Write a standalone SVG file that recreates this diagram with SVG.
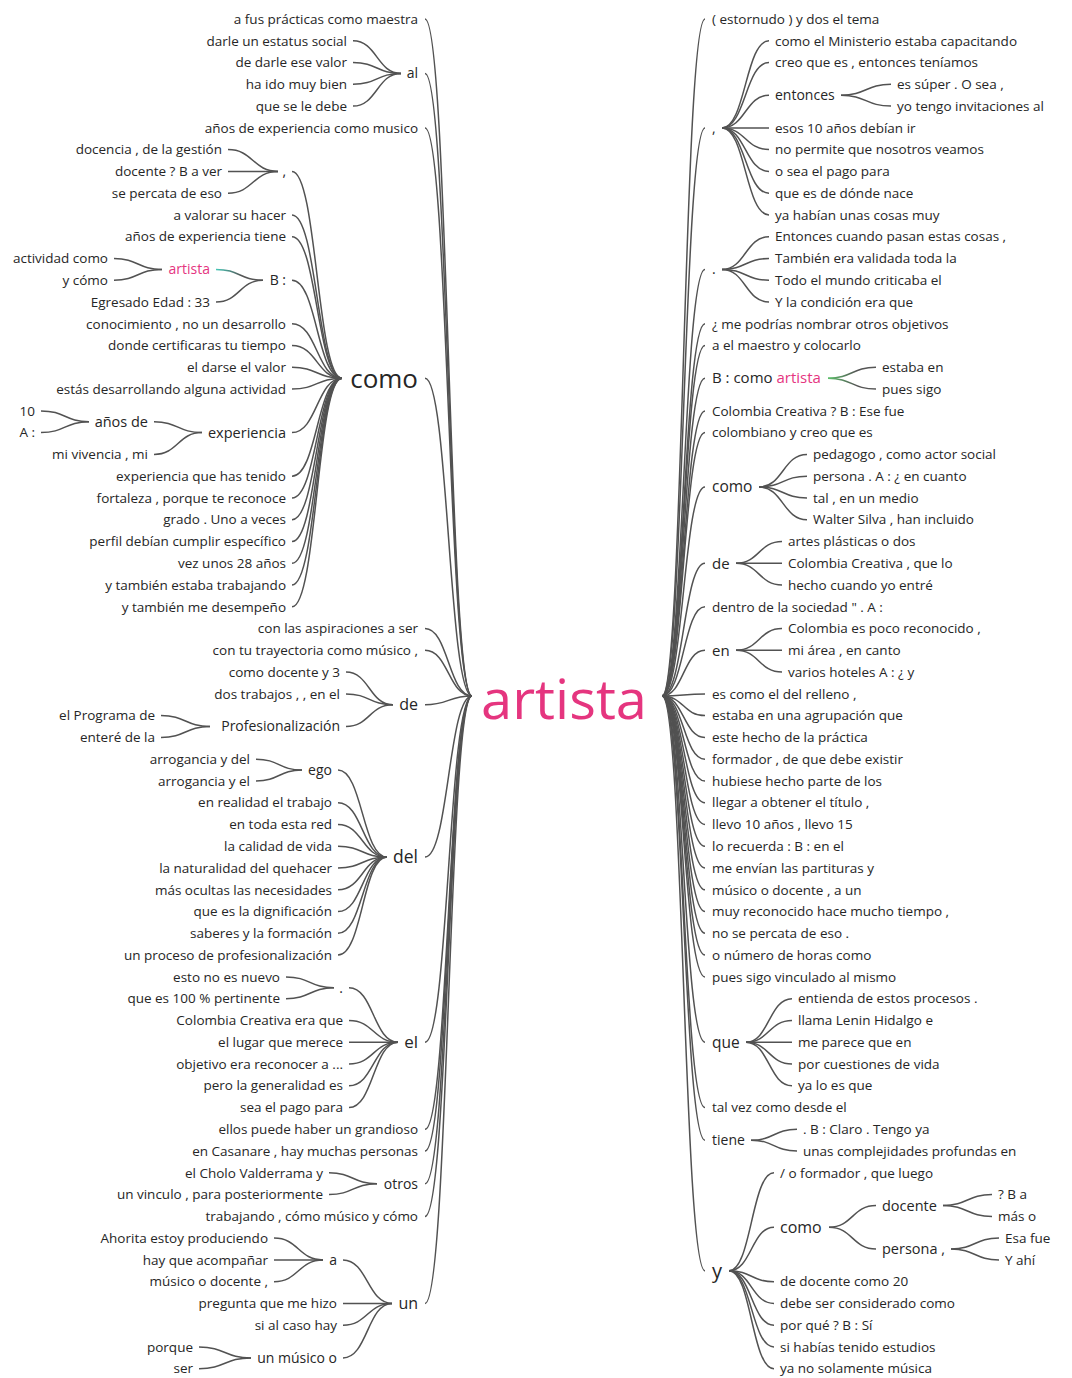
<svg xmlns="http://www.w3.org/2000/svg" width="1072" height="1378" viewBox="0 0 1072 1378">
<defs>
  <linearGradient id="hl" x1="0" y1="0" x2="1" y2="0">
    <stop offset="0" stop-color="#45c9b8"/>
    <stop offset="0.55" stop-color="#555"/>
  </linearGradient>
  <linearGradient id="hlr" x1="0" y1="0" x2="1" y2="0">
    <stop offset="0" stop-color="#5cbf6a"/>
    <stop offset="0.6" stop-color="#555"/>
  </linearGradient>
  <style>
    text { font-family: "Open Sans", "Liberation Sans", sans-serif; fill: #262626; }
    .lf { font-size: 13.5px; }
    .lt { text-anchor: end; }
    .n14 { font-size: 14px; }
    .n15 { font-size: 15px; }
    .n16 { font-size: 16px; }
    .pk { fill: #e5357f; }
    .lnk path { fill: none; stroke: #525252; stroke-width: 1.5; }
  </style>
</defs>
<rect width="1072" height="1378" fill="#fff"/>

<!-- connectors -->
<g class="lnk" id="connectors">
  <!-- root, left side -->
  <path d="M425 19C448.5 19 448.5 696 472 696"/>
  <path d="M425 73.4C448.5 73.4 448.5 696 472 696"/>
  <path d="M425 127.9C448.5 127.9 448.5 696 472 696"/>
  <path d="M425 378.2C448.5 378.2 448.5 696 472 696"/>
  <path d="M425 628.6C448.5 628.6 448.5 696 472 696"/>
  <path d="M425 650.3C448.5 650.3 448.5 696 472 696"/>
  <path d="M425 704.8C448.5 704.8 448.5 696 472 696"/>
  <path d="M425 857.1C448.5 857.1 448.5 696 472 696"/>
  <path d="M425 1042.2C448.5 1042.2 448.5 696 472 696"/>
  <path d="M425 1129.3C448.5 1129.3 448.5 696 472 696"/>
  <path d="M425 1151C448.5 1151 448.5 696 472 696"/>
  <path d="M425 1183.7C448.5 1183.7 448.5 696 472 696"/>
  <path d="M425 1216.4C448.5 1216.4 448.5 696 472 696"/>
  <path d="M425 1303.4C448.5 1303.4 448.5 696 472 696"/>
  <!-- al -->
  <path d="M353 40.8C377 40.8 377 73.4 401 73.4"/>
  <path d="M353 62.5C377 62.5 377 73.4 401 73.4"/>
  <path d="M353 84.3C377 84.3 377 73.4 401 73.4"/>
  <path d="M353 106.1C377 106.1 377 73.4 401 73.4"/>
  <!-- como (left) -->
  <path d="M292 171.4C317 171.4 317 378.2 342 378.2"/>
  <path d="M292 214.9C317 214.9 317 378.2 342 378.2"/>
  <path d="M292 236.7C317 236.7 317 378.2 342 378.2"/>
  <path d="M292 280.2C317 280.2 317 378.2 342 378.2"/>
  <path d="M292 323.8C317 323.8 317 378.2 342 378.2"/>
  <path d="M292 345.6C317 345.6 317 378.2 342 378.2"/>
  <path d="M292 367.3C317 367.3 317 378.2 342 378.2"/>
  <path d="M292 389.1C317 389.1 317 378.2 342 378.2"/>
  <path d="M292 432.6C317 432.6 317 378.2 342 378.2"/>
  <path d="M292 476.2C317 476.2 317 378.2 342 378.2"/>
  <path d="M292 497.9C317 497.9 317 378.2 342 378.2"/>
  <path d="M292 519.7C317 519.7 317 378.2 342 378.2"/>
  <path d="M292 541.5C317 541.5 317 378.2 342 378.2"/>
  <path d="M292 563.3C317 563.3 317 378.2 342 378.2"/>
  <path d="M292 585C317 585 317 378.2 342 378.2"/>
  <path d="M292 606.8C317 606.8 317 378.2 342 378.2"/>
  <!-- comma under como -->
  <path d="M228 149.6C253 149.6 253 171.4 278 171.4"/>
  <path d="M228 171.4C253 171.4 253 171.4 278 171.4"/>
  <path d="M228 193.2C253 193.2 253 171.4 278 171.4"/>
  <!-- B : -->
  <path d="M216 269.4C239.5 269.4 239.5 280.2 263 280.2" style="stroke:url(#hl)"/>
  <path d="M216 302C239.5 302 239.5 280.2 263 280.2"/>
  <!-- artista (left) -->
  <path d="M114 258.5C138 258.5 138 269.4 162 269.4"/>
  <path d="M114 280.2C138 280.2 138 269.4 162 269.4"/>
  <!-- experiencia -->
  <path d="M154 421.7C178 421.7 178 432.6 202 432.6"/>
  <path d="M154 454.4C178 454.4 178 432.6 202 432.6"/>
  <!-- años de -->
  <path d="M41 410.9C65 410.9 65 421.7 89 421.7"/>
  <path d="M41 432.6C65 432.6 65 421.7 89 421.7"/>
  <!-- de (left) -->
  <path d="M346 672.1C369.5 672.1 369.5 704.8 393 704.8"/>
  <path d="M346 693.9C369.5 693.9 369.5 704.8 393 704.8"/>
  <path d="M346 726.5C369.5 726.5 369.5 704.8 393 704.8"/>
  <!-- Profesionalización -->
  <path d="M161 715.6C185.5 715.6 185.5 726.5 210 726.5"/>
  <path d="M161 737.4C185.5 737.4 185.5 726.5 210 726.5"/>
  <!-- del -->
  <path d="M338 770.1C362.5 770.1 362.5 857.1 387 857.1"/>
  <path d="M338 802.7C362.5 802.7 362.5 857.1 387 857.1"/>
  <path d="M338 824.5C362.5 824.5 362.5 857.1 387 857.1"/>
  <path d="M338 846.3C362.5 846.3 362.5 857.1 387 857.1"/>
  <path d="M338 868C362.5 868 362.5 857.1 387 857.1"/>
  <path d="M338 889.8C362.5 889.8 362.5 857.1 387 857.1"/>
  <path d="M338 911.6C362.5 911.6 362.5 857.1 387 857.1"/>
  <path d="M338 933.3C362.5 933.3 362.5 857.1 387 857.1"/>
  <path d="M338 955.1C362.5 955.1 362.5 857.1 387 857.1"/>
  <!-- ego -->
  <path d="M256 759.2C279 759.2 279 770.1 302 770.1"/>
  <path d="M256 781C279 781 279 770.1 302 770.1"/>
  <!-- el -->
  <path d="M349 987.8C373.5 987.8 373.5 1042.2 398 1042.2"/>
  <path d="M349 1020.4C373.5 1020.4 373.5 1042.2 398 1042.2"/>
  <path d="M349 1042.2C373.5 1042.2 373.5 1042.2 398 1042.2"/>
  <path d="M349 1064C373.5 1064 373.5 1042.2 398 1042.2"/>
  <path d="M349 1085.7C373.5 1085.7 373.5 1042.2 398 1042.2"/>
  <path d="M349 1107.5C373.5 1107.5 373.5 1042.2 398 1042.2"/>
  <!-- period under el -->
  <path d="M286 976.9C310 976.9 310 987.8 334 987.8"/>
  <path d="M286 998.7C310 998.7 310 987.8 334 987.8"/>
  <!-- otros -->
  <path d="M329 1172.8C353 1172.8 353 1183.7 377 1183.7"/>
  <path d="M329 1194.6C353 1194.6 353 1183.7 377 1183.7"/>
  <!-- un -->
  <path d="M343 1259.9C367.5 1259.9 367.5 1303.4 392 1303.4"/>
  <path d="M343 1303.4C367.5 1303.4 367.5 1303.4 392 1303.4"/>
  <path d="M343 1325.2C367.5 1325.2 367.5 1303.4 392 1303.4"/>
  <path d="M343 1357.9C367.5 1357.9 367.5 1303.4 392 1303.4"/>
  <!-- a -->
  <path d="M274 1238.1C298.5 1238.1 298.5 1259.9 323 1259.9"/>
  <path d="M274 1259.9C298.5 1259.9 298.5 1259.9 323 1259.9"/>
  <path d="M274 1281.7C298.5 1281.7 298.5 1259.9 323 1259.9"/>
  <!-- un músico o -->
  <path d="M199 1347C225 1347 225 1357.9 251 1357.9"/>
  <path d="M199 1368.7C225 1368.7 225 1357.9 251 1357.9"/>

  <!-- root, right side -->
  <path d="M662 696C683.5 696 683.5 19 705 19"/>
  <path d="M662 696C683.5 696 683.5 127.9 705 127.9"/>
  <path d="M662 696C683.5 696 683.5 269.4 705 269.4"/>
  <path d="M662 696C683.5 696 683.5 323.8 705 323.8"/>
  <path d="M662 696C683.5 696 683.5 345.6 705 345.6"/>
  <path d="M662 696C683.5 696 683.5 378.2 705 378.2"/>
  <path d="M662 696C683.5 696 683.5 410.9 705 410.9"/>
  <path d="M662 696C683.5 696 683.5 432.6 705 432.6"/>
  <path d="M662 696C683.5 696 683.5 487 705 487"/>
  <path d="M662 696C683.5 696 683.5 563.3 705 563.3"/>
  <path d="M662 696C683.5 696 683.5 606.8 705 606.8"/>
  <path d="M662 696C683.5 696 683.5 650.3 705 650.3"/>
  <path d="M662 696C683.5 696 683.5 693.9 705 693.9"/>
  <path d="M662 696C683.5 696 683.5 715.6 705 715.6"/>
  <path d="M662 696C683.5 696 683.5 737.4 705 737.4"/>
  <path d="M662 696C683.5 696 683.5 759.2 705 759.2"/>
  <path d="M662 696C683.5 696 683.5 781 705 781"/>
  <path d="M662 696C683.5 696 683.5 802.7 705 802.7"/>
  <path d="M662 696C683.5 696 683.5 824.5 705 824.5"/>
  <path d="M662 696C683.5 696 683.5 846.3 705 846.3"/>
  <path d="M662 696C683.5 696 683.5 868 705 868"/>
  <path d="M662 696C683.5 696 683.5 889.8 705 889.8"/>
  <path d="M662 696C683.5 696 683.5 911.6 705 911.6"/>
  <path d="M662 696C683.5 696 683.5 933.3 705 933.3"/>
  <path d="M662 696C683.5 696 683.5 955.1 705 955.1"/>
  <path d="M662 696C683.5 696 683.5 976.9 705 976.9"/>
  <path d="M662 696C683.5 696 683.5 1042.2 705 1042.2"/>
  <path d="M662 696C683.5 696 683.5 1107.5 705 1107.5"/>
  <path d="M662 696C683.5 696 683.5 1140.2 705 1140.2"/>
  <path d="M662 696C683.5 696 683.5 1270.8 705 1270.8"/>
  <!-- comma (right) -->
  <path d="M722 127.9C745.5 127.9 745.5 40.8 769 40.8"/>
  <path d="M722 127.9C745.5 127.9 745.5 62.5 769 62.5"/>
  <path d="M722 127.9C745.5 127.9 745.5 95.2 769 95.2"/>
  <path d="M722 127.9C745.5 127.9 745.5 127.9 769 127.9"/>
  <path d="M722 127.9C745.5 127.9 745.5 149.6 769 149.6"/>
  <path d="M722 127.9C745.5 127.9 745.5 171.4 769 171.4"/>
  <path d="M722 127.9C745.5 127.9 745.5 193.2 769 193.2"/>
  <path d="M722 127.9C745.5 127.9 745.5 214.9 769 214.9"/>
  <!-- entonces -->
  <path d="M841 95.2C866 95.2 866 84.3 891 84.3"/>
  <path d="M841 95.2C866 95.2 866 106.1 891 106.1"/>
  <!-- period (right) -->
  <path d="M722 269.4C745.5 269.4 745.5 236.7 769 236.7"/>
  <path d="M722 269.4C745.5 269.4 745.5 258.5 769 258.5"/>
  <path d="M722 269.4C745.5 269.4 745.5 280.2 769 280.2"/>
  <path d="M722 269.4C745.5 269.4 745.5 302 769 302"/>
  <!-- B : como artista -->
  <path d="M828 378.2C852 378.2 852 367.3 876 367.3" style="stroke:url(#hlr)"/>
  <path d="M828 378.2C852 378.2 852 389.1 876 389.1" style="stroke:url(#hlr)"/>
  <!-- como (right) -->
  <path d="M759 487C783 487 783 454.4 807 454.4"/>
  <path d="M759 487C783 487 783 476.2 807 476.2"/>
  <path d="M759 487C783 487 783 497.9 807 497.9"/>
  <path d="M759 487C783 487 783 519.7 807 519.7"/>
  <!-- de (right) -->
  <path d="M736 563.3C759 563.3 759 541.5 782 541.5"/>
  <path d="M736 563.3C759 563.3 759 563.3 782 563.3"/>
  <path d="M736 563.3C759 563.3 759 585 782 585"/>
  <!-- en -->
  <path d="M736 650.3C759 650.3 759 628.6 782 628.6"/>
  <path d="M736 650.3C759 650.3 759 650.3 782 650.3"/>
  <path d="M736 650.3C759 650.3 759 672.1 782 672.1"/>
  <!-- que -->
  <path d="M746 1042.2C769 1042.2 769 998.7 792 998.7"/>
  <path d="M746 1042.2C769 1042.2 769 1020.4 792 1020.4"/>
  <path d="M746 1042.2C769 1042.2 769 1042.2 792 1042.2"/>
  <path d="M746 1042.2C769 1042.2 769 1064 792 1064"/>
  <path d="M746 1042.2C769 1042.2 769 1085.7 792 1085.7"/>
  <!-- tiene -->
  <path d="M751 1140.2C774 1140.2 774 1129.3 797 1129.3"/>
  <path d="M751 1140.2C774 1140.2 774 1151 797 1151"/>
  <!-- y -->
  <path d="M729 1270.8C751.5 1270.8 751.5 1172.8 774 1172.8"/>
  <path d="M729 1270.8C751.5 1270.8 751.5 1227.2 774 1227.2"/>
  <path d="M729 1270.8C751.5 1270.8 751.5 1281.7 774 1281.7"/>
  <path d="M729 1270.8C751.5 1270.8 751.5 1303.4 774 1303.4"/>
  <path d="M729 1270.8C751.5 1270.8 751.5 1325.2 774 1325.2"/>
  <path d="M729 1270.8C751.5 1270.8 751.5 1347 774 1347"/>
  <path d="M729 1270.8C751.5 1270.8 751.5 1368.7 774 1368.7"/>
  <!-- como under y -->
  <path d="M829 1227.2C852.5 1227.2 852.5 1205.5 876 1205.5"/>
  <path d="M829 1227.2C852.5 1227.2 852.5 1249 876 1249"/>
  <!-- docente -->
  <path d="M943 1205.5C967.5 1205.5 967.5 1194.6 992 1194.6"/>
  <path d="M943 1205.5C967.5 1205.5 967.5 1216.4 992 1216.4"/>
  <!-- persona -->
  <path d="M951 1249C975 1249 975 1238.1 999 1238.1"/>
  <path d="M951 1249C975 1249 975 1259.9 999 1259.9"/>
</g>

<!-- root word -->
<g id="node-root">
  <text x="481" y="719" font-size="55" class="pk" textLength="166" lengthAdjust="spacingAndGlyphs">artista</text>
</g>

<!-- left branch words -->
<g id="node-l-al"><text class="lt n14" x="418" y="78.3">al</text></g>
<g id="node-l-como"><text class="lt" x="418" y="388" font-size="26">como</text></g>
<g id="node-l-comma"><text class="lt n14" x="286" y="176.3">,</text></g>
<g id="node-l-b"><text class="lt n14" x="286" y="285.1">B :</text></g>
<g id="node-l-artista"><text class="lt n14 pk" x="210" y="274.3">artista</text></g>
<g id="node-l-experiencia"><text class="lt" x="286" y="437.6" font-size="14.5">experiencia</text></g>
<g id="node-l-anos-de"><text class="lt" x="148" y="426.7" font-size="14.5">años de</text></g>
<g id="node-l-de"><text class="lt n16" x="418" y="710.4">de</text></g>
<g id="node-l-profesionalizacion"><text class="lt n14" x="340" y="731.4">Profesionalización</text></g>
<g id="node-l-del"><text class="lt" x="418" y="863.2" font-size="17.5">del</text></g>
<g id="node-l-ego"><text class="lt n14" x="332" y="775">ego</text></g>
<g id="node-l-period"><text class="lt n14" x="343" y="992.7">.</text></g>
<g id="node-l-el"><text class="lt" x="418" y="1048.2" font-size="17">el</text></g>
<g id="node-l-otros"><text class="lt n14" x="418" y="1188.6">otros</text></g>
<g id="node-l-un"><text class="lt n16" x="418" y="1309">un</text></g>
<g id="node-l-a"><text class="lt n14" x="337" y="1264.8">a</text></g>
<g id="node-l-un-musico-o"><text class="lt n14" x="337" y="1362.8">un músico o</text></g>

<!-- left leaves -->
<g id="leaves-left" class="lf">
  <text class="lt lf" x="418" y="23.7">a fus prácticas como maestra</text>
  <text class="lt lf" x="347" y="45.5">darle un estatus social</text>
  <text class="lt lf" x="347" y="67.2">de darle ese valor</text>
  <text class="lt lf" x="347" y="89">ha ido muy bien</text>
  <text class="lt lf" x="347" y="110.8">que se le debe</text>
  <text class="lt lf" x="418" y="132.6">años de experiencia como musico</text>
  <text class="lt lf" x="222" y="154.3">docencia , de la gestión</text>
  <text class="lt lf" x="222" y="176.1">docente ? B a ver</text>
  <text class="lt lf" x="222" y="197.9">se percata de eso</text>
  <text class="lt lf" x="286" y="219.6">a valorar su hacer</text>
  <text class="lt lf" x="286" y="241.4">años de experiencia tiene</text>
  <text class="lt lf" x="108" y="263.2">actividad como</text>
  <text class="lt lf" x="108" y="284.9">y cómo</text>
  <text class="lt lf" x="210" y="306.7">Egresado Edad : 33</text>
  <text class="lt lf" x="286" y="328.5">conocimiento , no un desarrollo</text>
  <text class="lt lf" x="286" y="350.3">donde certificaras tu tiempo</text>
  <text class="lt lf" x="286" y="372">el darse el valor</text>
  <text class="lt lf" x="286" y="393.8">estás desarrollando alguna actividad</text>
  <text class="lt lf" x="35" y="415.6">10</text>
  <text class="lt lf" x="35" y="437.3">A :</text>
  <text class="lt lf" x="148" y="459.1">mi vivencia , mi</text>
  <text class="lt lf" x="286" y="480.9">experiencia que has tenido</text>
  <text class="lt lf" x="286" y="502.6">fortaleza , porque te reconoce</text>
  <text class="lt lf" x="286" y="524.4">grado . Uno a veces</text>
  <text class="lt lf" x="286" y="546.2">perfil debían cumplir específico</text>
  <text class="lt lf" x="286" y="568">vez unos 28 años</text>
  <text class="lt lf" x="286" y="589.7">y también estaba trabajando</text>
  <text class="lt lf" x="286" y="611.5">y también me desempeño</text>
  <text class="lt lf" x="418" y="633.3">con las aspiraciones a ser</text>
  <text class="lt lf" x="418" y="655">con tu trayectoria como músico ,</text>
  <text class="lt lf" x="340" y="676.8">como docente y 3</text>
  <text class="lt lf" x="340" y="698.6">dos trabajos , , en el</text>
  <text class="lt lf" x="155" y="720.3">el Programa de</text>
  <text class="lt lf" x="155" y="742.1">enteré de la</text>
  <text class="lt lf" x="250" y="763.9">arrogancia y del</text>
  <text class="lt lf" x="250" y="785.7">arrogancia y el</text>
  <text class="lt lf" x="332" y="807.4">en realidad el trabajo</text>
  <text class="lt lf" x="332" y="829.2">en toda esta red</text>
  <text class="lt lf" x="332" y="851">la calidad de vida</text>
  <text class="lt lf" x="332" y="872.7">la naturalidad del quehacer</text>
  <text class="lt lf" x="332" y="894.5">más ocultas las necesidades</text>
  <text class="lt lf" x="332" y="916.3">que es la dignificación</text>
  <text class="lt lf" x="332" y="938">saberes y la formación</text>
  <text class="lt lf" x="332" y="959.8">un proceso de profesionalización</text>
  <text class="lt lf" x="280" y="981.6">esto no es nuevo</text>
  <text class="lt lf" x="280" y="1003.4">que es 100 % pertinente</text>
  <text class="lt lf" x="343" y="1025.1">Colombia Creativa era que</text>
  <text class="lt lf" x="343" y="1046.9">el lugar que merece</text>
  <text class="lt lf" x="343" y="1068.7">objetivo era reconocer a ...</text>
  <text class="lt lf" x="343" y="1090.4">pero la generalidad es</text>
  <text class="lt lf" x="343" y="1112.2">sea el pago para</text>
  <text class="lt lf" x="418" y="1134">ellos puede haber un grandioso</text>
  <text class="lt lf" x="418" y="1155.7">en Casanare , hay muchas personas</text>
  <text class="lt lf" x="323" y="1177.5">el Cholo Valderrama y</text>
  <text class="lt lf" x="323" y="1199.3">un vinculo , para posteriormente</text>
  <text class="lt lf" x="418" y="1221.1">trabajando , cómo músico y cómo</text>
  <text class="lt lf" x="268" y="1242.8">Ahorita estoy produciendo</text>
  <text class="lt lf" x="268" y="1264.6">hay que acompañar</text>
  <text class="lt lf" x="268" y="1286.4">músico o docente ,</text>
  <text class="lt lf" x="337" y="1308.1">pregunta que me hizo</text>
  <text class="lt lf" x="337" y="1329.9">si al caso hay</text>
  <text class="lt lf" x="193" y="1351.7">porque</text>
  <text class="lt lf" x="193" y="1373.4">ser</text>
</g>

<!-- right branch words -->
<g id="node-r-comma"><text class="n14" x="712" y="132.8">,</text></g>
<g id="node-r-entonces"><text class="n14" x="775" y="100.1">entonces</text></g>
<g id="node-r-period"><text class="n14" x="712" y="274.3">.</text></g>
<g id="node-r-b-como-artista"><text class="n15" x="712" y="383.4">B : como <tspan class="pk">artista</tspan></text></g>
<g id="node-r-como"><text x="712" y="492.4" font-size="15.5">como</text></g>
<g id="node-r-de"><text class="n15" x="712" y="568.5">de</text></g>
<g id="node-r-en"><text class="n15" x="712" y="655.5">en</text></g>
<g id="node-r-que"><text x="712" y="1047.6" font-size="15.5">que</text></g>
<g id="node-r-tiene"><text class="n14" x="712" y="1145.1">tiene</text></g>
<g id="node-r-y"><text x="712" y="1277.8" font-size="20">y</text></g>
<g id="node-r-y-como"><text class="n16" x="780" y="1232.8">como</text></g>
<g id="node-r-docente"><text x="882" y="1210.6" font-size="14.5">docente</text></g>
<g id="node-r-persona"><text x="882" y="1254.1" font-size="14.5">persona ,</text></g>

<!-- right leaves -->
<g id="leaves-right" class="lf">
  <text class="lf" x="712" y="23.7">( estornudo ) y dos el tema</text>
  <text class="lf" x="775" y="45.5">como el Ministerio estaba capacitando</text>
  <text class="lf" x="775" y="67.2">creo que es , entonces teníamos</text>
  <text class="lf" x="897" y="89">es súper . O sea ,</text>
  <text class="lf" x="897" y="110.8">yo tengo invitaciones al</text>
  <text class="lf" x="775" y="132.6">esos 10 años debían ir</text>
  <text class="lf" x="775" y="154.3">no permite que nosotros veamos</text>
  <text class="lf" x="775" y="176.1">o sea el pago para</text>
  <text class="lf" x="775" y="197.9">que es de dónde nace</text>
  <text class="lf" x="775" y="219.6">ya habían unas cosas muy</text>
  <text class="lf" x="775" y="241.4">Entonces cuando pasan estas cosas ,</text>
  <text class="lf" x="775" y="263.2">También era validada toda la</text>
  <text class="lf" x="775" y="284.9">Todo el mundo criticaba el</text>
  <text class="lf" x="775" y="306.7">Y la condición era que</text>
  <text class="lf" x="712" y="328.5">¿ me podrías nombrar otros objetivos</text>
  <text class="lf" x="712" y="350.3">a el maestro y colocarlo</text>
  <text class="lf" x="882" y="372">estaba en</text>
  <text class="lf" x="882" y="393.8">pues sigo</text>
  <text class="lf" x="712" y="415.6">Colombia Creativa ? B : Ese fue</text>
  <text class="lf" x="712" y="437.3">colombiano y creo que es</text>
  <text class="lf" x="813" y="459.1">pedagogo , como actor social</text>
  <text class="lf" x="813" y="480.9">persona . A : ¿ en cuanto</text>
  <text class="lf" x="813" y="502.6">tal , en un medio</text>
  <text class="lf" x="813" y="524.4">Walter Silva , han incluido</text>
  <text class="lf" x="788" y="546.2">artes plásticas o dos</text>
  <text class="lf" x="788" y="568">Colombia Creativa , que lo</text>
  <text class="lf" x="788" y="589.7">hecho cuando yo entré</text>
  <text class="lf" x="712" y="611.5">dentro de la sociedad " . A :</text>
  <text class="lf" x="788" y="633.3">Colombia es poco reconocido ,</text>
  <text class="lf" x="788" y="655">mi área , en canto</text>
  <text class="lf" x="788" y="676.8">varios hoteles A : ¿ y</text>
  <text class="lf" x="712" y="698.6">es como el del relleno ,</text>
  <text class="lf" x="712" y="720.3">estaba en una agrupación que</text>
  <text class="lf" x="712" y="742.1">este hecho de la práctica</text>
  <text class="lf" x="712" y="763.9">formador , de que debe existir</text>
  <text class="lf" x="712" y="785.7">hubiese hecho parte de los</text>
  <text class="lf" x="712" y="807.4">llegar a obtener el título ,</text>
  <text class="lf" x="712" y="829.2">llevo 10 años , llevo 15</text>
  <text class="lf" x="712" y="851">lo recuerda : B : en el</text>
  <text class="lf" x="712" y="872.7">me envían las partituras y</text>
  <text class="lf" x="712" y="894.5">músico o docente , a un</text>
  <text class="lf" x="712" y="916.3">muy reconocido hace mucho tiempo ,</text>
  <text class="lf" x="712" y="938">no se percata de eso .</text>
  <text class="lf" x="712" y="959.8">o número de horas como</text>
  <text class="lf" x="712" y="981.6">pues sigo vinculado al mismo</text>
  <text class="lf" x="798" y="1003.4">entienda de estos procesos .</text>
  <text class="lf" x="798" y="1025.1">llama Lenin Hidalgo e</text>
  <text class="lf" x="798" y="1046.9">me parece que en</text>
  <text class="lf" x="798" y="1068.7">por cuestiones de vida</text>
  <text class="lf" x="798" y="1090.4">ya lo es que</text>
  <text class="lf" x="712" y="1112.2">tal vez como desde el</text>
  <text class="lf" x="803" y="1134">. B : Claro . Tengo ya</text>
  <text class="lf" x="803" y="1155.7">unas complejidades profundas en</text>
  <text class="lf" x="780" y="1177.5">/ o formador , que luego</text>
  <text class="lf" x="998" y="1199.3">? B a</text>
  <text class="lf" x="998" y="1221.1">más o</text>
  <text class="lf" x="1005" y="1242.8">Esa fue</text>
  <text class="lf" x="1005" y="1264.6">Y ahí</text>
  <text class="lf" x="780" y="1286.4">de docente como 20</text>
  <text class="lf" x="780" y="1308.1">debe ser considerado como</text>
  <text class="lf" x="780" y="1329.9">por qué ? B : Sí</text>
  <text class="lf" x="780" y="1351.7">si habías tenido estudios</text>
  <text class="lf" x="780" y="1373.4">ya no solamente música</text>
</g>
</svg>
